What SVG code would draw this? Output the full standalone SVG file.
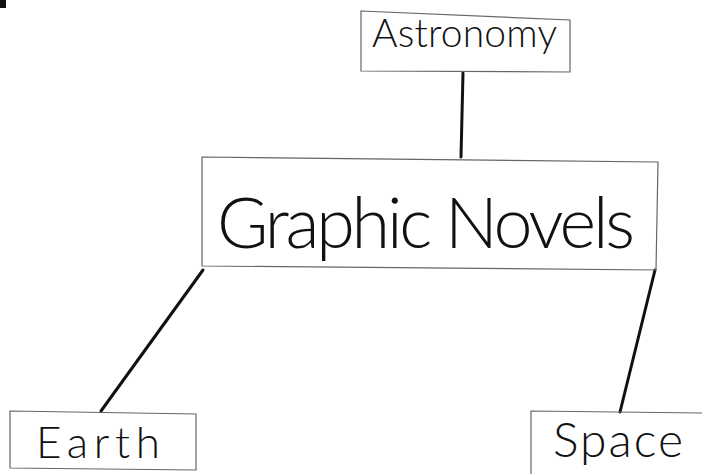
<svg xmlns="http://www.w3.org/2000/svg" width="702" height="474" viewBox="0 0 702 474">
<style>
.box{fill:none;stroke:#666;stroke-width:1.2}
.lbl{font-family:Lato,"DejaVu Sans",sans-serif;font-weight:300;fill:#111}
.con{stroke:#111;stroke-width:3;stroke-linecap:round;fill:none}
</style>
<rect x="0" y="0" width="6" height="8" fill="#111"/>
<g id="connectors">
<line class="con" x1="463" y1="73" x2="461" y2="157"/>
<line class="con" x1="203" y1="270" x2="101" y2="411"/>
<line class="con" x1="655" y1="270" x2="620" y2="412"/>
</g>
<g id="astronomy">
<polygon class="box" points="361,11 570,20 570,72 361,71"/>
<text class="lbl" x="372" y="47" font-size="39" textLength="185" lengthAdjust="spacing">Astronomy</text>
</g>
<g id="graphic-novels">
<polygon class="box" points="202,157 658,162 656,270 202,266"/>
<text class="lbl" x="217" y="248" font-size="70" textLength="418" lengthAdjust="spacing">Graphic Novels</text>
</g>
<g id="earth">
<polygon class="box" points="10,411 196,414 196,470 10,468"/>
<text class="lbl" x="36" y="458" font-size="44" textLength="124" lengthAdjust="spacing">Earth</text>
</g>
<g id="space">
<polyline class="box" points="531,474 531,411 702,413"/>
<text class="lbl" x="553" y="457" font-size="48" textLength="130" lengthAdjust="spacing">Space</text>
</g>
</svg>
